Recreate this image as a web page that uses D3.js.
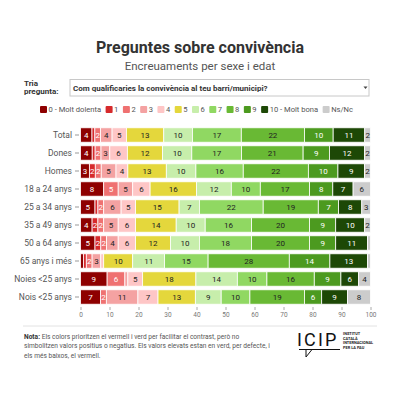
<!DOCTYPE html>
<html lang="ca">
<head>
<meta charset="UTF-8">
<title>Preguntes sobre convivència</title>
<script src="https://cdn.jsdelivr.net/npm/d3@7"></script>
<style>
    body { margin: 0; background: #fff; }
    svg { display: block; font-family: "Roboto", "Noto Sans", sans-serif; }
</style>
</head>
<body>
<script>
// categories and answers
var rows = ["Total", "Dones", "Homes", "18 a 24 anys", "25 a 34 anys", "35 a 49 anys",
            "50 a 64 anys", "65 anys i més", "Noies <25 anys", "Nois <25 anys"];
var answers = ["0 - Molt dolenta", "1", "2", "3", "4", "5", "6", "7", "8", "9", "10 - Molt bona", "Ns/Nc"];
var colors = ["#8e0000", "#d62a2c", "#ef7171", "#f4a2a2", "#fec6c6", "#e4d73c",
              "#c7eeab", "#90d862", "#69b934", "#4c9a1f", "#1d4806", "#cccccc"];
// white labels on these answers
var darkAnswers = ["0 - Molt dolenta", "1", "2", "9", "10 - Molt bona"];

// % per answer (0..10, Ns/Nc)
var vTotal  = [4, 1, 2, 4, 5, 13, 10, 17, 22, 10, 11, 2];
var vDones  = [4, 1, 2, 3, 6, 12, 10, 17, 21, 9, 12, 2];
var vHomes  = [3, 2, 2, 5, 4, 13, 10, 16, 22, 10, 9, 2];
var v18_24  = [8, 0, 5, 5, 6, 16, 12, 10, 17, 8, 7, 6];
var v25_34  = [5, 1, 2, 6, 5, 15, 7, 22, 19, 7, 8, 3];
var v35_49  = [4, 2, 2, 5, 6, 14, 10, 16, 20, 9, 10, 2];
var v50_64  = [5, 2, 2, 4, 6, 12, 10, 18, 20, 9, 11, 1];
var v65     = [1, 1, 2, 3, 1, 10, 11, 15, 28, 14, 13, 1];
var vNoies  = [9, 0, 6, 1, 5, 18, 14, 10, 16, 9, 6, 4];
var vNois   = [7, 0, 2, 11, 7, 13, 9, 10, 19, 6, 9, 8];
var rowValues = [vTotal, vDones, vHomes, v18_24, v25_34, v35_49, v50_64, v65, vNoies, vNois];

var xTicks = [0, 10, 20, 30, 40, 50, 60, 70, 80, 90, 100];

// build table for d3.stack
var table = rows.map(function(r, i) {
    var o = { row: r };
    answers.forEach(function(a, j) { o[a] = rowValues[i][j]; });
    return o;
});

var w = 400, h = 400;
var svg = d3.select("body").append("svg").attr("width", w).attr("height", h);

// titles
svg.append("text")
    .attr("x", 200).attr("y", 53)
    .attr("text-anchor", "middle")
    .attr("font-size", "16px").attr("font-weight", "bold")
    .attr("fill", "#333")
    .text("Preguntes sobre convivència");
svg.append("text")
    .attr("x", 200).attr("y", 70)
    .attr("text-anchor", "middle")
    .attr("font-size", "11.5px")
    .attr("fill", "#555")
    .text("Encreuaments per sexe i edat");

// question selector
svg.append("text").attr("x", 24).attr("y", 85.5)
    .attr("font-size", "8px").attr("font-weight", "bold").attr("fill", "#333").text("Tria");
svg.append("text").attr("x", 24).attr("y", 94)
    .attr("font-size", "8px").attr("font-weight", "bold").attr("fill", "#333").text("pregunta:");
svg.append("rect")
    .attr("x", 70).attr("y", 79.5).attr("width", 299).attr("height", 16.5)
    .attr("fill", "#fff").attr("stroke", "#c8c8c8");
svg.append("text").attr("x", 73).attr("y", 90.8)
    .attr("font-size", "8px").attr("font-weight", "bold").attr("fill", "#333")
    .text("Com qualificaries la convivència al teu barri/municipi?");
svg.append("path")
    .attr("d", "M363.5,86.5 L367.5,86.5 L365.5,89 Z")
    .attr("fill", "#444");

// legend, spread between x=40 and x=353
var legend = svg.append("g").attr("transform", "translate(40,109.5)");
var items = answers.map(function(a, i) {
    var g = legend.append("g");
    g.append("rect").attr("x", 0).attr("y", -3.5).attr("width", 7).attr("height", 7)
        .attr("rx", 1).attr("fill", colors[i]);
    var t = g.append("text").attr("x", 8.5).attr("y", 2.8)
        .attr("font-size", "7.6px").attr("fill", "#555").text(a);
    return { g: g, w: 8.5 + t.node().getComputedTextLength() };
});
var legendWidth = 313;
var gap = (legendWidth - d3.sum(items, function(d) { return d.w; })) / (items.length - 1);
var lx = 0;
items.forEach(function(it) {
    it.g.attr("transform", "translate(" + lx + ",0)");
    lx += it.w + gap;
});

// scales
var x = d3.scaleLinear().domain([0, 1]).range([80.5, 370.5]);
var y = d3.scaleBand().domain(rows).range([126, 306]).paddingInner(0.2).paddingOuter(0.1);
var color = d3.scaleOrdinal().domain(answers).range(colors);

var series = d3.stack().keys(answers).offset(d3.stackOffsetExpand)(table);

var layers = svg.append("g").selectAll("g")
    .data(series)
    .enter()
    .append("g")
    .attr("fill", function(d) { return color(d.key); });

layers.selectAll("rect")
    .data(function(d) { return d; })
    .enter()
    .append("rect")
    .attr("x", function(d) { return x(d[0]); })
    .attr("y", function(d) { return y(d.data.row); })
    .attr("width", function(d) { return Math.max(0, x(d[1]) - x(d[0])); })
    .attr("height", y.bandwidth())
    .attr("stroke", "#fff")
    .attr("stroke-width", 0.8);

layers.each(function(s) {
    d3.select(this).selectAll("text")
        .data(s.filter(function(d) { return d.data[s.key] >= 2; }))
        .enter()
        .append("text")
        .attr("x", function(d) { return (x(d[0]) + x(d[1])) / 2; })
        .attr("y", function(d) { return y(d.data.row) + y.bandwidth() / 2 + 3; })
        .attr("text-anchor", "middle")
        .attr("font-size", "8px")
        .attr("fill", darkAnswers.indexOf(s.key) >= 0 ? "#fff" : "#222")
        .text(function(d) { return d.data[s.key]; });
});

// y axis
var yAxis = svg.append("g")
    .attr("transform", "translate(79,0)")
    .call(d3.axisLeft(y).tickSize(4).tickPadding(3));
yAxis.select(".domain").remove();
yAxis.selectAll("line").attr("stroke", "#999");
yAxis.selectAll("text").attr("font-size", "8.5px").attr("fill", "#555")
    .attr("font-family", "Roboto, sans-serif");

// x axis
var xAxis = svg.append("g")
    .attr("transform", "translate(0,307)")
    .call(d3.axisBottom(x).tickValues(xTicks.map(function(t) { return t / 100; }))
        .tickFormat(function(d) { return Math.round(d * 100); })
        .tickSize(3).tickPadding(2));
xAxis.select(".domain").remove();
xAxis.selectAll("line").attr("stroke", "#aaa");
xAxis.selectAll("text").attr("font-size", "6.5px").attr("fill", "#777")
    .attr("font-family", "Roboto, sans-serif");

// footer
svg.append("line").attr("x1", 23).attr("x2", 377).attr("y1", 326).attr("y2", 326)
    .attr("stroke", "#e2e2e2");
var note = svg.append("text").attr("font-size", "6.6px").attr("fill", "#555");
note.append("tspan").attr("x", 24).attr("y", 338.5).attr("font-weight", "bold").attr("fill", "#333").text("Nota:");
note.append("tspan").text(" Els colors prioritzen el vermell i verd per facilitar el contrast, però no");
note.append("tspan").attr("x", 24).attr("y", 348)
    .text("simbolitzen valors positius o negatius. Els valors elevats estan en verd, per defecte, i");
note.append("tspan").attr("x", 24).attr("y", 357.5).text("els més baixos, el vermell.");

// ICIP logo
var logo = svg.append("g");
logo.append("text").attr("x", 297).attr("y", 346)
    .attr("font-size", "18px").attr("fill", "#111")
    .attr("letter-spacing", "2.2")
    .text("ICIP");
logo.append("path")
    .attr("d", "M299,349.5 L340,349.5 M306,349.5 L306,357 L312,349.5")
    .attr("fill", "none").attr("stroke", "#111").attr("stroke-width", 1);
["INSTITUT", "CATALÀ", "INTERNACIONAL", "PER LA PAU"].forEach(function(s, i) {
    logo.append("text").attr("x", 343).attr("y", 335 + i * 4.6)
        .attr("font-size", "3.9px").attr("font-weight", "bold").attr("fill", "#222").text(s);
});
</script>
</body>
</html>
